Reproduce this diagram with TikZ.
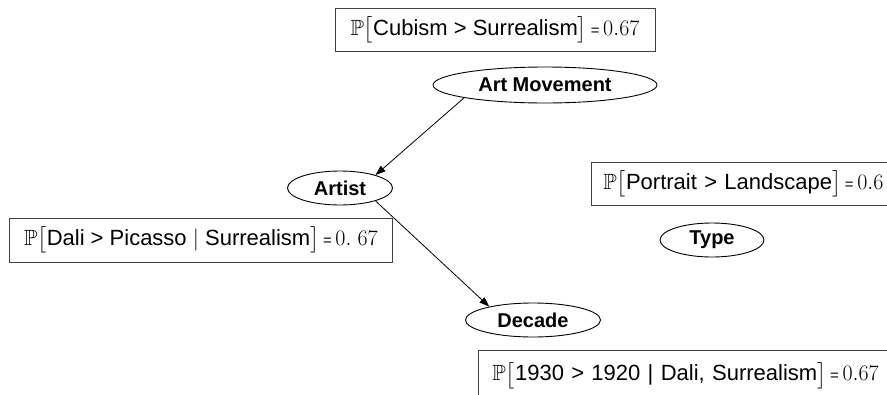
\documentclass[tikz,border=0pt]{standalone}
\usepackage{fix-cm}
\usepackage{amsmath,amssymb}
\usepackage{fontspec}
\setmainfont{Liberation Sans}
\usetikzlibrary{shapes.geometric,arrows.meta}

\newcommand{\probof}[2]{$\mathbb{P}\big[$#1$\big]$\,{\fontsize{15}{18}\selectfont =}\,$#2$}

\tikzset{
  varnode/.style={ellipse, draw, line width=0.9pt, inner sep=0pt, minimum height=34pt,
    font=\fontsize{20}{24}\selectfont\bfseries},
  cptbox/.style={draw=black!75, line width=0.9pt, inner ysep=0pt,
    font=\fontsize{22}{26.5}\selectfont},
  dep/.style={-{Triangle[length=10pt,width=7pt]}, line width=0.8pt}
}

\begin{document}
\begin{tikzpicture}[x=1pt, y=-1pt]
  \useasboundingbox (0,0) rectangle (887,394);

  % variables
  \node[varnode, minimum width=224pt, minimum height=36pt] (move) at (545,85) {Art Movement};
  \node[varnode, minimum width=105pt] (artist) at (340,188) {Artist};
  \node[varnode, minimum width=104pt] (type) at (712,240) {Type};
  \node[varnode, minimum width=135pt] (decade) at (533,320) {Decade};

  % conditional probability tables
  \node[cptbox, inner xsep=0pt, minimum width=320pt, minimum height=43pt] (movecpt)
    at (495,30) {\probof{Cubism > Surrealism}{0.67}};
  \node[cptbox, inner xsep=0pt, minimum width=383pt, minimum height=44pt] (artistcpt)
    at (201,240) {\probof{Dali > Picasso $|$ Surrealism}{0.\;67}};
  \node[cptbox, anchor=west, inner xsep=12pt, text width=320pt, align=left, minimum height=43pt] (typecpt)
    at (591,183.5) {\probof{Portrait > Landscape}{0.6}};
  \node[cptbox, anchor=north west, inner xsep=14pt, text width=420pt, align=left, minimum height=50pt] (decadecpt)
    at (478,350) {\probof{1930 > 1920 | Dali, Surrealism}{0.67}};

  \draw[dep] (move.189) -- (artist.20);
  \draw[dep] (artist.-20) -- (decade.163);
\end{tikzpicture}
\end{document}
